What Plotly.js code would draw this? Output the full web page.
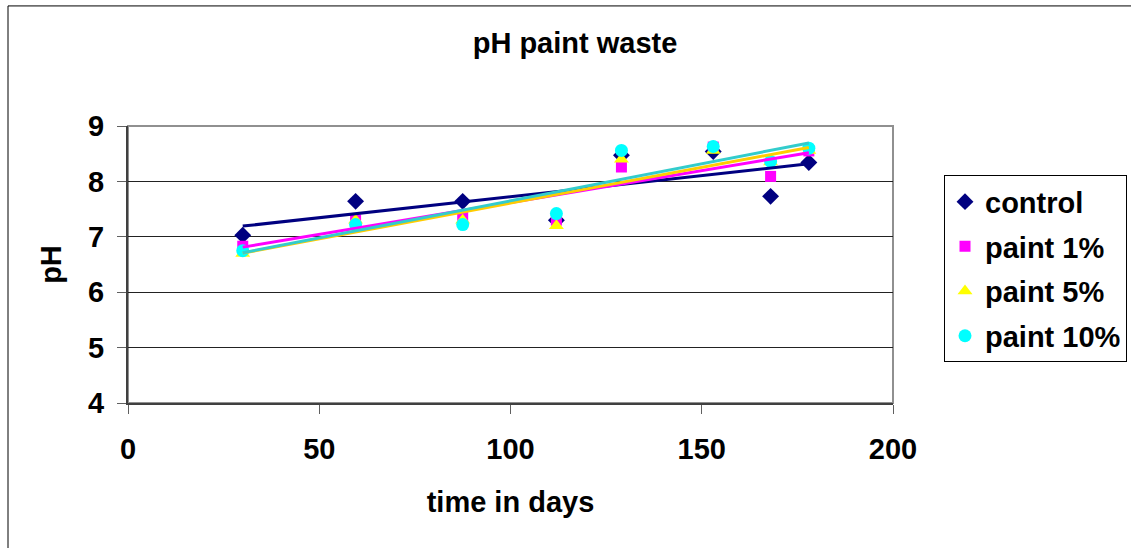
<!DOCTYPE html>
<html>
<head>
<meta charset="utf-8">
<script src="https://cdn.plot.ly/plotly-3.0.1.min.js"></script>
<style>html,body{margin:0;padding:0;background:#fff;}#chart{width:1131px;height:548px;}</style>
</head>
<body>
<div id="chart"></div>
<script>
const days = [30, 59.5, 87.5, 112, 129, 153, 168, 178];
const control = [7.03, 7.64, 7.64, 7.30, 8.47, 8.54, 7.73, 8.34];
const paint1 = [6.83, 7.30, 7.35, 7.30, 8.26, 8.62, 8.09, 8.55];
const paint5 = [6.70, 7.30, 7.30, 7.20, 8.40, 8.56, 8.35, 8.56];
const paint10 = [6.75, 7.22, 7.22, 7.42, 8.56, 8.63, 8.36, 8.60];
const seriesNames = ['control', 'paint 1%', 'paint 5%', 'paint 10%'];
const xTicks = [0, 50, 100, 150, 200];
const yTicks = [4, 5, 6, 7, 8, 9];

const seriesData = [control, paint1, paint5, paint10];
const markerColors = ['#000080', '#FF00FF', '#FFFF00', '#00FFFF'];
const lineColors = ['#000080', '#FF00FF', '#FFCC00', '#33CCCC'];
const symbols = ['diamond', 'square', 'triangle-up', 'circle'];
const sizes = [13, 11, 13, 13];

function fit(xs, ys) {
  const n = xs.length;
  const mx = xs.reduce((a, b) => a + b, 0) / n;
  const my = ys.reduce((a, b) => a + b, 0) / n;
  let sxy = 0, sxx = 0;
  for (let i = 0; i < n; i++) { sxy += (xs[i] - mx) * (ys[i] - my); sxx += (xs[i] - mx) ** 2; }
  const m = sxy / sxx;
  return [m, my - m * mx];
}

const traces = [];
seriesData.forEach((ys, i) => {
  traces.push({
    x: days, y: ys, type: 'scatter', mode: 'markers', name: seriesNames[i],
    legendgroup: 'g' + i,
    marker: {symbol: symbols[i], color: markerColors[i], size: sizes[i], line: {width: 0}},
    cliponaxis: false
  });
});
seriesData.forEach((ys, i) => {
  const [m, b] = fit(days, ys);
  const x0 = Math.min(...days), x1 = Math.max(...days);
  traces.push({
    x: [x0, x1], y: [m * x0 + b, m * x1 + b], type: 'scatter', mode: 'lines',
    showlegend: false, hoverinfo: 'skip', legendgroup: 'g' + i,
    line: {color: lineColors[i], width: 3}
  });
});

const fontFam = '"Liberation Sans", Arial, sans-serif';
const FS = 29;
const L = 128, R = 893, T = 125.5, B = 403.5;
const pw = R - L, ph = B - T;

const layout = {
  width: 1131, height: 548,
  margin: {l: L, r: 1131 - R, t: T, b: 548 - B, autoexpand: false},
  paper_bgcolor: '#fff', plot_bgcolor: '#fff',
  font: {family: fontFam, size: FS, color: '#000', weight: 'bold'},
  title: {text: 'pH paint waste', font: {family: fontFam, size: FS, weight: 'bold', color: '#000'},
          xref: 'container', x: 575 / 1131, xanchor: 'center', yref: 'container', y: 1 - 43 / 548, yanchor: 'middle'},
  xaxis: {
    range: [0, 200], tickvals: xTicks, ticktext: xTicks.map(String), automargin: false,
    showgrid: false, zeroline: false, showline: true, linecolor: '#404040', linewidth: 2,
    ticks: 'outside', ticklen: 9, tickcolor: '#606060', tickwidth: 1, ticklabelstandoff: 10,
    tickfont: {family: fontFam, size: FS, weight: 'bold'},
    title: {text: 'time in days', font: {family: fontFam, size: FS, weight: 'bold'}, standoff: 28}
  },
  yaxis: {
    range: [4, 9], tickvals: yTicks, ticktext: yTicks.map(String), automargin: false,
    showgrid: true, gridcolor: '#222', gridwidth: 1, zeroline: false,
    showline: true, linecolor: '#404040', linewidth: 2,
    ticks: 'outside', ticklen: 9, tickcolor: '#606060', tickwidth: 1, ticklabelstandoff: 7,
    tickfont: {family: fontFam, size: FS, weight: 'bold'},
    title: {text: 'pH', font: {family: fontFam, size: FS, weight: 'bold'}, standoff: 18}
  },
  legend: {
    x: (944 - L) / pw, xanchor: 'left', y: (B - 175) / ph, yanchor: 'top',
    bordercolor: '#000', borderwidth: 1, bgcolor: '#fff', tracegroupgap: 4,
    font: {family: fontFam, size: FS, weight: 'bold'}
  },
  shapes: [
    {type: 'rect', xref: 'paper', yref: 'paper', x0: 0, x1: 1, y0: 0, y1: 1,
     line: {color: '#909090', width: 2}, layer: 'below'},
    {type: 'rect', xref: 'paper', yref: 'paper', x0: (8 - L) / pw, x1: (1140 - L) / pw,
     y0: (B - 560) / ph, y1: (B - 5) / ph, line: {color: '#000', width: 1}}
  ],
  showlegend: true
};

Plotly.newPlot('chart', traces, layout, {displayModeBar: false, staticPlot: true});
</script>
</body>
</html>
